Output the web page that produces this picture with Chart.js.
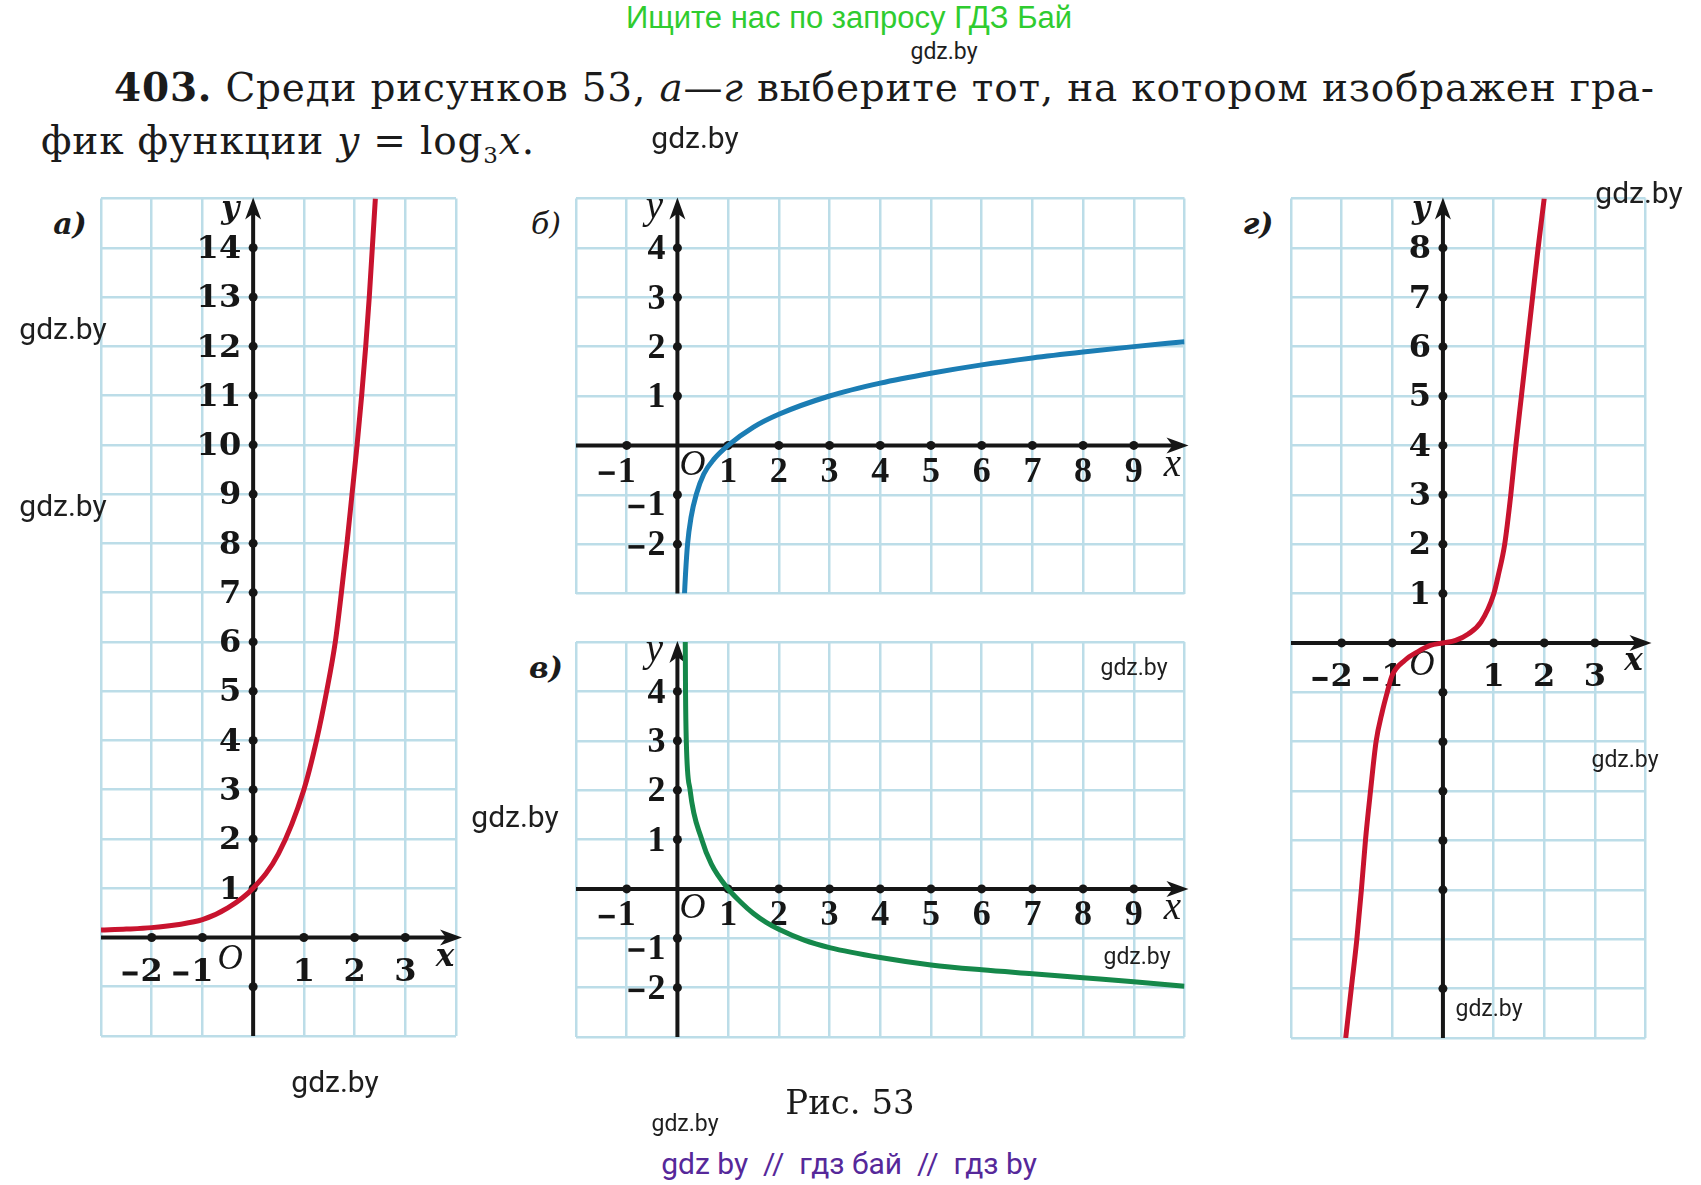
<!DOCTYPE html>
<html lang="ru">
<head>
<meta charset="utf-8">
<script src="https://cdn.jsdelivr.net/npm/chart.js@4.4.1/dist/chart.umd.min.js"></script>
<style>
  html, body { margin: 0; padding: 0; background: #fff; }
  body { width: 1701px; height: 1185px; position: relative; overflow: hidden; color: #1b1b1b; }
  canvas { position: absolute; }
  .t { position: absolute; white-space: nowrap; line-height: 1; }
  .c { transform: translate(-50%, -50%); }
  .serif { font-family: 'DejaVu Serif', serif; }
  .wm { font-family: Roboto, 'Liberation Sans', sans-serif; color: #1e1e1e; }
  .big { font-size: 30px; }
  .small { font-size: 23px; }
  .panel { font-family: 'DejaVu Serif', serif; font-size: 30px; font-style: italic; font-weight: bold; }
</style>
</head>
<body>

<div class="t c" style="left:849px;top:17px;font-family:'Liberation Sans',Arial,sans-serif;font-size:31px;color:#2fcc2f;">Ищите нас по запросу ГДЗ Бай</div>

<div id="line1" class="t serif" style="left:114px;top:68px;font-size:39px;"><b>403.</b> Среди рисунков 53, <i>а</i>—<i>г</i> выберите тот, на котором изображен гра-</div>
<div id="line2" class="t serif" style="left:41px;top:121px;font-size:39px;">фик функции <i>y</i> = log<sub style="font-size:23px">3</sub><i>x</i>.</div>

<div class="t c panel" style="left:70px;top:224px;">а)</div>
<div class="t c panel" style="left:546px;top:224px;font-weight:normal;">б)</div>
<div class="t c panel" style="left:546px;top:668px;">в)</div>
<div class="t c panel" style="left:1258px;top:224px;">г)</div>

<canvas id="chA"></canvas>
<canvas id="chB"></canvas>
<canvas id="chV"></canvas>
<canvas id="chG"></canvas>

<div class="t c serif" style="left:850px;top:1102px;font-size:34px;">Рис. 53</div>

<div class="t c wm small" style="left:944px;top:51px;">gdz.by</div>
<div class="t c wm big" style="left:695px;top:138px;">gdz.by</div>
<div class="t c wm big" style="left:63px;top:329px;">gdz.by</div>
<div class="t c wm big" style="left:63px;top:506px;">gdz.by</div>
<div class="t c wm big" style="left:1639px;top:193px;">gdz.by</div>
<div class="t c wm small" style="left:1134px;top:667px;">gdz.by</div>
<div class="t c wm small" style="left:1137px;top:956px;">gdz.by</div>
<div class="t c wm big" style="left:515px;top:817px;">gdz.by</div>
<div class="t c wm small" style="left:1625px;top:759px;">gdz.by</div>
<div class="t c wm small" style="left:1489px;top:1008px;">gdz.by</div>
<div class="t c wm big" style="left:335px;top:1082px;">gdz.by</div>
<div class="t c wm small" style="left:685px;top:1123px;">gdz.by</div>

<div class="t c" style="left:849px;top:1164px;font-family:Roboto,'Liberation Sans',sans-serif;font-size:30px;color:#56289a;white-space:pre;">gdz by  //  гдз бай  //  гдз by</div>

<script>
/* ---------- data ---------- */
// а) exponential-looking curve
const aRangeX = [-3, 4];
const aRangeY = [-2, 15];
const aCurveX = [-3, -2.5, -2, -1.5, -1, -0.5, 0, 0.5, 1, 1.25, 1.45, 1.62, 1.74, 1.85, 1.95, 2.05, 2.14, 2.22, 2.29, 2.35, 2.41];
const aCurveY = [0.15, 0.17, 0.2, 0.26, 0.36, 0.6, 1, 1.7, 3, 4, 5, 6, 7, 8, 9, 10, 11, 12, 13, 14, 15];
const aTicksX = [-2, -1, 1, 2, 3];
const aTicksY = [1, 2, 3, 4, 5, 6, 7, 8, 9, 10, 11, 12, 13, 14];
const aDotsY = [-1, 1, 2, 3, 4, 5, 6, 7, 8, 9, 10, 11, 12, 13, 14];

// б) increasing logarithm
const bRangeX = [-2, 10];
const bRangeY = [-3, 5];
const bCurveX = [0.14, 0.16, 0.2, 0.27, 0.37, 0.52, 0.72, 1, 1.5, 2, 3, 4, 5, 6, 7, 8, 9, 10];
const bCurveY = [-3, -2.6, -2, -1.45, -1, -0.58, -0.28, 0, 0.37, 0.63, 1, 1.26, 1.46, 1.63, 1.77, 1.89, 2, 2.1];
const bTicksX = [-1, 1, 2, 3, 4, 5, 6, 7, 8, 9];
const bTicksY = [-2, -1, 1, 2, 3, 4];

// в) decreasing logarithm
const vRangeX = [-2, 10];
const vRangeY = [-3, 5];
const vCurveX = [0.155, 0.16, 0.175, 0.25, 0.48, 0.67, 1, 1.25, 1.5, 1.75, 2, 2.5, 3, 4, 5, 6, 7, 8, 9, 10];
const vCurveY = [5, 4, 3, 2, 1, 0.5, 0, -0.27, -0.5, -0.68, -0.82, -1.04, -1.19, -1.39, -1.54, -1.64, -1.72, -1.8, -1.88, -1.97];
const vTicksX = [-1, 1, 2, 3, 4, 5, 6, 7, 8, 9];
const vTicksY = [-2, -1, 1, 2, 3, 4];

// г) cubic-looking curve
const gRangeX = [-3, 4];
const gRangeY = [-8, 9];
const gCurveX = [-1.92, -1.81, -1.7, -1.61, -1.53, -1.43, -1.32, -1.2, -1.1, -1, -0.75, -0.5, -0.25, 0, 0.25, 0.5, 0.75, 1, 1.1, 1.22, 1.34, 1.44, 1.55, 1.66, 1.77, 1.88, 2];
const gCurveY = [-8, -7, -6, -5, -4, -3, -2, -1.4, -1, -0.65, -0.35, -0.18, -0.05, 0, 0.05, 0.18, 0.42, 0.98, 1.4, 2, 3, 4, 5, 6, 7, 8, 9];
const gTicksX = [-2, -1, 1, 2, 3];
const gTicksY = [1, 2, 3, 4, 5, 6, 7, 8];
const gDotsY = [-7, -5, -4, -3, -2, -1, 1, 2, 3, 4, 5, 6, 7, 8];

/* ---------- look ---------- */
const INK = '#161616';
const GRID = '#bcdde8';

const arrow = (ctx, tx, ty, dx, dy) => {
  const len = 22, half = 8, notch = 16;
  const nx = -dy, ny = dx;
  ctx.beginPath();
  ctx.moveTo(tx, ty);
  ctx.lineTo(tx - dx * len + nx * half, ty - dy * len + ny * half);
  ctx.lineTo(tx - dx * notch, ty - dy * notch);
  ctx.lineTo(tx - dx * len - nx * half, ty - dy * len - ny * half);
  ctx.closePath();
  ctx.fill();
};

// a number whose minus sign is a short thick bar, digits centred on cx
const drawNum = (ctx, v, cx, cy, o, alignRight) => {
  const txt = String(Math.abs(v));
  const w = ctx.measureText(txt).width;
  const mw = v < 0 ? o.minus[0] + 3 : 0;
  const left = alignRight ? cx - w : cx - w / 2;
  ctx.textAlign = 'left';
  ctx.fillText(txt, left, cy);
  if (v < 0) ctx.fillRect(left - mw, cy + o.minus[2], o.minus[0], o.minus[1]);
};

// axes through the origin, arrows, tick labels, O, axis names
const axesPlugin = {
  id: 'axes',
  beforeDatasetsDraw(chart, args, o) {
    const { ctx, chartArea: ca, scales: { x, y } } = chart;
    const x0 = x.getPixelForValue(0), y0 = y.getPixelForValue(0);
    ctx.save();
    ctx.strokeStyle = INK; ctx.fillStyle = INK; ctx.lineWidth = 4;
    ctx.beginPath(); ctx.moveTo(ca.left, y0); ctx.lineTo(ca.right + o.over - 12, y0); ctx.stroke();
    arrow(ctx, ca.right + o.over, y0, 1, 0);
    ctx.beginPath(); ctx.moveTo(x0, ca.bottom); ctx.lineTo(x0, ca.top + 12); ctx.stroke();
    arrow(ctx, x0, ca.top - 1, 0, -1);

    ctx.font = o.font; ctx.textBaseline = 'middle';
    o.xTicks.forEach(v => drawNum(ctx, v, x.getPixelForValue(v), y0 + o.xGap, o, false));
    o.yTicks.forEach(v => {
      const shift = (v === -1 && o.lowMinusOne) ? 9 : 0;
      drawNum(ctx, v, x0 - o.yGap, y.getPixelForValue(v) + 2 + shift, o, true);
    });

    ctx.textAlign = 'center';
    ctx.font = o.oFont;
    ctx.fillText('O', x0 + o.origin[0], y0 + o.origin[1]);
    ctx.font = o.nameFont;
    ctx.fillText('x', ca.right + o.xName[0], y0 + o.xName[1]);
    ctx.fillText('y', x0 + o.yName[0], ca.top + o.yName[1]);
    ctx.restore();
  }
};

const makeChart = (id, box, rx, ry, cx, cy, color, dotsX, dotsY, style) => {
  const P = 70;
  const left = Math.floor(box.l - P), top = Math.floor(box.t - P);
  const w = Math.ceil(box.r + P) - left, h = Math.ceil(box.b + P) - top;
  const cv = document.getElementById(id);
  cv.width = w; cv.height = h;
  Object.assign(cv.style, { left: left + 'px', top: top + 'px', width: w + 'px', height: h + 'px' });

  const dots = dotsX.map(v => ({ x: v, y: 0 })).concat(dotsY.map(v => ({ x: 0, y: v })));

  return new Chart(cv, {
    type: 'scatter',
    data: {
      datasets: [
        { data: cx.map((v, i) => ({ x: v, y: cy[i] })), showLine: true, borderColor: color, borderWidth: 5,
          pointRadius: 0, cubicInterpolationMode: 'monotone', fill: false },
        { data: dots, pointRadius: 4.5, backgroundColor: INK, borderWidth: 0, clip: false }
      ]
    },
    options: {
      responsive: false, animation: false, devicePixelRatio: 1, events: [],
      layout: { padding: { left: box.l - left, top: box.t - top, right: left + w - box.r, bottom: top + h - box.b } },
      plugins: { legend: { display: false }, tooltip: { enabled: false }, axes: style },
      scales: {
        x: { type: 'linear', min: rx[0], max: rx[1], ticks: { display: false, stepSize: 1 },
             grid: { color: GRID, lineWidth: 2.5, drawTicks: false }, border: { display: false } },
        y: { type: 'linear', min: ry[0], max: ry[1], ticks: { display: false, stepSize: 1 },
             grid: { color: GRID, lineWidth: 2.5, drawTicks: false }, border: { display: false } }
      }
    },
    plugins: [axesPlugin]
  });
};

const wideFont = { font: 'bold 32px "DejaVu Serif"', minus: [15, 4, -1], oFont: 'italic 35px "Liberation Serif"', nameFont: 'bold italic 31px "DejaVu Serif"' };
const slimFont = { font: 'bold 36px "Liberation Serif"', minus: [16, 3.5, -1], oFont: 'italic 36px "Liberation Serif"', nameFont: 'italic 39px "Liberation Serif"' };

makeChart('chA', { l: 101, r: 456, t: 198.5, b: 1036 }, aRangeX, aRangeY, aCurveX, aCurveY, '#c8132e',
  aTicksX, aDotsY,
  { ...wideFont, xTicks: aTicksX, yTicks: aTicksY, xGap: 35, yGap: 12, over: 6, origin: [-23, 22], xName: [-11, 20], yName: [-23, 11] });

makeChart('chB', { l: 576, r: 1184.5, t: 198.5, b: 593.5 }, bRangeX, bRangeY, bCurveX, bCurveY, '#1b7db4',
  bTicksX, bTicksY,
  { ...slimFont, xTicks: bTicksX, yTicks: bTicksY, xGap: 27, yGap: 12, over: 4, origin: [15, 20], xName: [-12, 20], yName: [-23, 9], lowMinusOne: true });

makeChart('chV', { l: 576, r: 1184.5, t: 642, b: 1037 }, vRangeX, vRangeY, vCurveX, vCurveY, '#15884a',
  vTicksX, vTicksY,
  { ...slimFont, xTicks: vTicksX, yTicks: vTicksY, xGap: 27, yGap: 12, over: 4, origin: [15, 20], xName: [-12, 20], yName: [-23, 9], lowMinusOne: true });

makeChart('chG', { l: 1291, r: 1645.5, t: 198.5, b: 1038 }, gRangeX, gRangeY, gCurveX, gCurveY, '#c8132e',
  gTicksX, gDotsY,
  { ...wideFont, xTicks: gTicksX, yTicks: gTicksY, xGap: 35, yGap: 12, over: 6, origin: [-21, 23], xName: [-12, 19], yName: [-22, 11] });

// stretch the first title line to its printed width, same tracking on the second line
const line1 = document.getElementById('line1');
const line2 = document.getElementById('line2');
const chars = line1.textContent.length - 1;
const extra = 1540 - line1.getBoundingClientRect().width;
const track = Math.max(0, extra / chars);
line1.style.letterSpacing = track + 'px';
line2.style.letterSpacing = track + 'px';
</script>
</body>
</html>
